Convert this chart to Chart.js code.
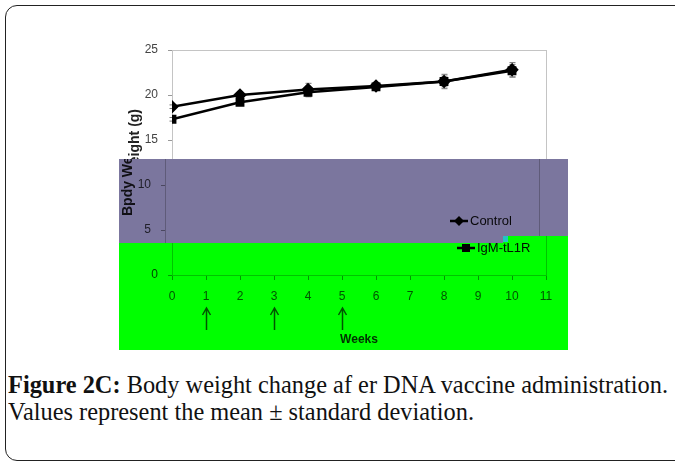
<!DOCTYPE html>
<html>
<head>
<meta charset="utf-8">
<script src="https://cdn.jsdelivr.net/npm/chart.js@4/dist/chart.umd.min.js"></script>
<style>
  html, body { margin:0; padding:0; background:#fff; }
  body { width:675px; height:465px; position:relative; overflow:hidden; }
  .frame { position:absolute; left:5px; top:5px; width:700px; height:456px;
           border:1.5px solid #222; border-radius:12px; box-sizing:border-box; }
  .plot { position:absolute; left:100px; top:20px; width:480px; height:340px; }
  .caption { position:absolute; left:8px; top:371px; font-family:'Liberation Serif', serif;
             font-size:25px; line-height:27px; color:#111; white-space:nowrap; }
  .caption span { display:inline-block; transform-origin:0 0; }
</style>
</head>
<body>
<div class="frame"></div>
<div class="plot"><canvas id="weightChart" width="480" height="340"></canvas></div>
<div class="caption">
  <div><span id="cap1" data-w="660"><b>Figure 2C:</b> Body weight change af er DNA vaccine administration.</span></div>
  <div><span id="cap2" data-w="466">Values represent the mean ± standard deviation.</span></div>
</div>
<script>
  // values (g)
  const weeks = [0, 2, 4, 6, 8, 10];
  const controlMean = [18.7, 20.0, 20.6, 21.0, 21.5, 22.8];
  const controlSD   = [0.2, 0.2, 0.7, 0.3, 0.8, 0.8];
  const igmMean     = [17.3, 19.2, 20.3, 20.9, 21.5, 22.7];
  const igmSD       = [0.2, 0.3, 0.5, 0.3, 0.6, 0.7];
  const seriesLabels = ['Control', 'IgM-tL1R'];
  const xMax = 11;
  const yMax = 25;
  const arrowWeeks = [1, 3, 5];   // vaccination times

  function pts(means){
    return weeks.map((w,i)=>({x:w, y:means[i]}));
  }

  const sds = [controlSD, igmSD];

  const extras = {
    id:'extras',
    beforeDraw(chart){
      const c = chart.ctx;
      c.save();
      c.fillStyle = '#fff';
      c.fillRect(0, 0, chart.width, chart.height);
      c.restore();
    },
    beforeDatasetsDraw(chart){
      const c = chart.ctx, a = chart.chartArea;
      const xs = chart.scales.x, ys = chart.scales.y;
      c.save();
      c.strokeStyle = '#c4c4c4';
      c.lineWidth = 1;
      c.strokeRect(a.left + .5, a.top + .5, a.right - a.left, a.bottom - a.top);
      // error bars
      c.strokeStyle = '#777';
      c.lineWidth = 1;
      chart.data.datasets.forEach((ds, di)=>{
        ds.data.forEach((p, i)=>{
          const sd = sds[di][i];
          const px = Math.round(xs.getPixelForValue(p.x)) + .5;
          const t = ys.getPixelForValue(p.y + sd), b = ys.getPixelForValue(p.y - sd);
          c.beginPath();
          c.moveTo(px, t); c.lineTo(px, b);
          c.moveTo(px-3, t); c.lineTo(px+3, t);
          c.moveTo(px-3, b); c.lineTo(px+3, b);
          c.stroke();
        });
      });
      c.restore();
    },
    afterDraw(chart){
      const c = chart.ctx;
      const xs = chart.scales.x;
      c.save();
      // legend
      const rows = [201, 228];
      chart.data.datasets.forEach((ds, i)=>{
        const y = rows[i];
        c.strokeStyle = '#000';
        c.lineWidth = 2.5;
        c.beginPath(); c.moveTo(357, y); c.lineTo(375, y); c.stroke();
        c.fillStyle = '#000';
        if(ds.pointStyle === 'rectRot'){
          c.beginPath(); c.moveTo(366, y-5); c.lineTo(371, y); c.lineTo(366, y+5); c.lineTo(361, y); c.closePath(); c.fill();
        } else {
          c.fillRect(362, y-4, 8, 8);
        }
        c.font = '13px "Liberation Sans", Arial, sans-serif';
        c.textBaseline = 'middle';
        c.fillStyle = '#111';
        c.fillText(ds.label, 377, y);
      });
      // vaccination arrows
      c.strokeStyle = '#555';
      c.lineWidth = 1.5;
      arrowWeeks.forEach(w=>{
        const px = Math.round(xs.getPixelForValue(w)) + .5;
        c.beginPath();
        c.moveTo(px, 310); c.lineTo(px, 288);
        c.moveTo(px-4, 295); c.lineTo(px, 288); c.lineTo(px+4, 295);
        c.stroke();
      });

      // tinted bands laid over the figure
      const cv = chart.canvas;
      const shift = 7;
      const purple = [[19, 139, 384, 84], [403, 139, 65, 77]];
      const green  = [[19, 223, 384, 107], [403, 216, 65, 114]];
      purple.forEach(r=>{
        c.drawImage(cv, r[0]+shift, r[1], r[2], r[3], r[0], r[1], r[2], r[3]);
      });
      c.globalCompositeOperation = 'multiply';
      c.fillStyle = '#7b769e';
      purple.forEach(r=>c.fillRect(r[0], r[1], r[2], r[3]));
      c.fillStyle = '#00ff00';
      green.forEach(r=>c.fillRect(r[0], r[1], r[2], r[3]));
      c.globalCompositeOperation = 'source-over';
      c.fillStyle = '#22c4c4';
      c.fillRect(403, 216, 5, 6);
      c.restore();
    }
  };

  new Chart(document.getElementById('weightChart'), {
    type:'line',
    data:{
      datasets:[
        {
          label:seriesLabels[0],
          data:pts(controlMean),
          borderColor:'#000',
          backgroundColor:'#000',
          borderWidth:2.5,
          pointStyle:'rectRot',
          pointRadius:5,
          tension:0
        },
        {
          label:seriesLabels[1],
          data:pts(igmMean),
          borderColor:'#000',
          backgroundColor:'#000',
          borderWidth:2.5,
          pointStyle:'rect',
          pointRadius:4.5,
          tension:0
        }
      ]
    },
    options:{
      responsive:false,
      animation:false,
      devicePixelRatio:1,
      layout:{padding:{top:30, right:34, bottom:9, left:0}},
      plugins:{legend:{display:false}, tooltip:{enabled:false}},
      scales:{
        x:{
          type:'linear',
          min:0, max:xMax,
          afterFit(s){ s.height = 76; },
          grid:{display:true, drawOnChartArea:false, drawTicks:true, tickLength:5, color:'#999'},
          border:{display:true, color:'#999'},
          ticks:{stepSize:1, padding:9, color:'#555', font:{family:'"Liberation Sans", Arial, sans-serif', size:12}},
          title:{display:true, text:'Weeks', color:'#333', padding:{top:0, bottom:4},
                 font:{family:'"Liberation Sans", Arial, sans-serif', size:12, weight:'bold'}}
        },
        y:{
          min:0, max:yMax,
          afterFit(s){ s.width = 72; },
          grid:{display:true, drawOnChartArea:false, drawTicks:true, tickLength:4, color:'#999'},
          border:{display:true, color:'#999'},
          ticks:{stepSize:5, padding:10, color:'#444', font:{family:'"Liberation Sans", Arial, sans-serif', size:12}},
          title:{display:true, text:'Bpdy Weight (g)', color:'#222', padding:{top:27, bottom:0},
                 font:{family:'"Liberation Sans", Arial, sans-serif', size:14, weight:'bold'}}
        }
      }
    },
    plugins:[extras]
  });

  // squeeze caption lines to the printed width
  ['cap1','cap2'].forEach(id=>{
    const el = document.getElementById(id);
    const w = el.getBoundingClientRect().width;
    el.style.transform = 'scaleX(' + (+el.dataset.w / w) + ')';
  });
</script>
</body>
</html>
